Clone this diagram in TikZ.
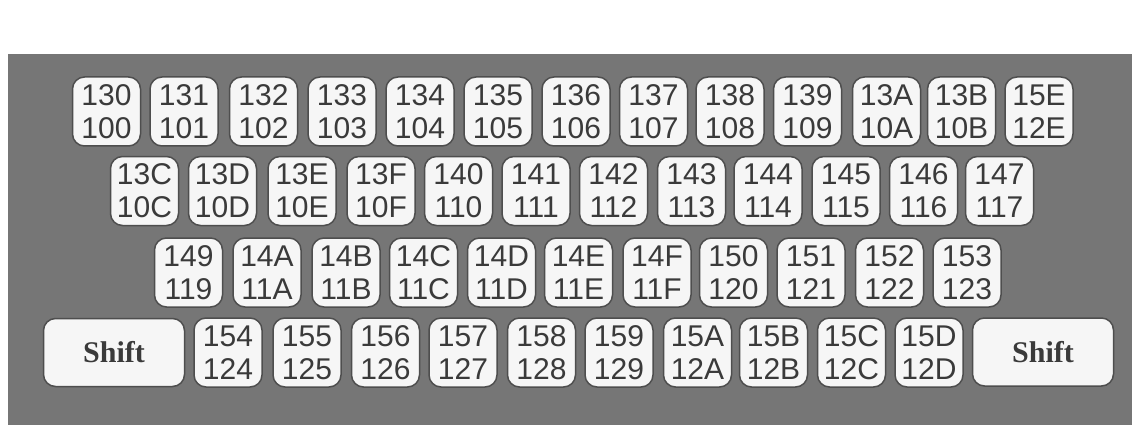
\documentclass[tikz,border=0pt]{standalone}
\usepackage{fontspec}
\setmainfont{Liberation Sans}
\newfontfamily\shiftfont{Liberation Serif}
\definecolor{panelgray}{RGB}{118,118,118}
\definecolor{keyface}{RGB}{246,246,246}
\definecolor{keyrim}{RGB}{78,78,78}
\definecolor{keyink}{RGB}{58,58,58}

\begin{document}
\begin{tikzpicture}[x=1pt, y=-1pt,
	key/.style={draw=keyrim, fill=keyface, line width=1.5pt, rounded corners=12pt, minimum width=68pt, minimum height=69pt, inner sep=0pt, align=center, text=keyink, font=\fontsize{30}{33}\selectfont},
	shiftkey/.style={key, minimum width=141pt, minimum height=68pt, font=\shiftfont\bfseries\fontsize{30}{33}\selectfont}]
	\useasboundingbox (0,0) rectangle (1132,425);
	\fill[white] (0,0) rectangle (1132,425);
	\fill[panelgray] (8,54) rectangle (1132,425);
	% top row
	\foreach \x/\a/\b in {106.5/130/100, 184/131/101, 263.5/132/102, 342/133/103, 420/134/104, 498/135/105, 576/136/106, 653.5/137/107, 730/138/108, 807.5/139/109, 886.5/13A/10A, 961.5/13B/10B, 1039/15E/12E}
		\node[key] (k\a) at (\x,111.5) {\a\\\b};
	% second row
	\foreach \x/\a/\b in {144.5/13C/10C, 222.5/13D/10D, 302/13E/10E, 381/13F/10F, 458.5/140/110, 536/141/111, 613.5/142/112, 691.5/143/113, 768/144/114, 846/145/115, 923.5/146/116, 999.5/147/117}
		\node[key] (k\a) at (\x,191) {\a\\\b};
	% third row
	\foreach \x/\a/\b in {188.5/149/119, 267/14A/11A, 346/14B/11B, 423.5/14C/11C, 501.5/14D/11D, 578.5/14E/11E, 657/14F/11F, 733.5/150/120, 811/151/121, 889.5/152/122, 967/153/123}
		\node[key] (k\a) at (\x,272.5) {\a\\\b};
	% bottom row with the two shift keys
	\node[shiftkey] (shiftL) at (114,352.5) {Shift};
	\foreach \x/\a/\b in {228/154/124, 307/155/125, 385.5/156/126, 463/157/127, 541.5/158/128, 619/159/129, 697.5/15A/12A, 773.5/15B/12B, 851.5/15C/12C, 929/15D/12D}
		\node[key] (k\a) at (\x,352.5) {\a\\\b};
	\node[shiftkey] (shiftR) at (1043,352) {Shift};
\end{tikzpicture}
\end{document}
